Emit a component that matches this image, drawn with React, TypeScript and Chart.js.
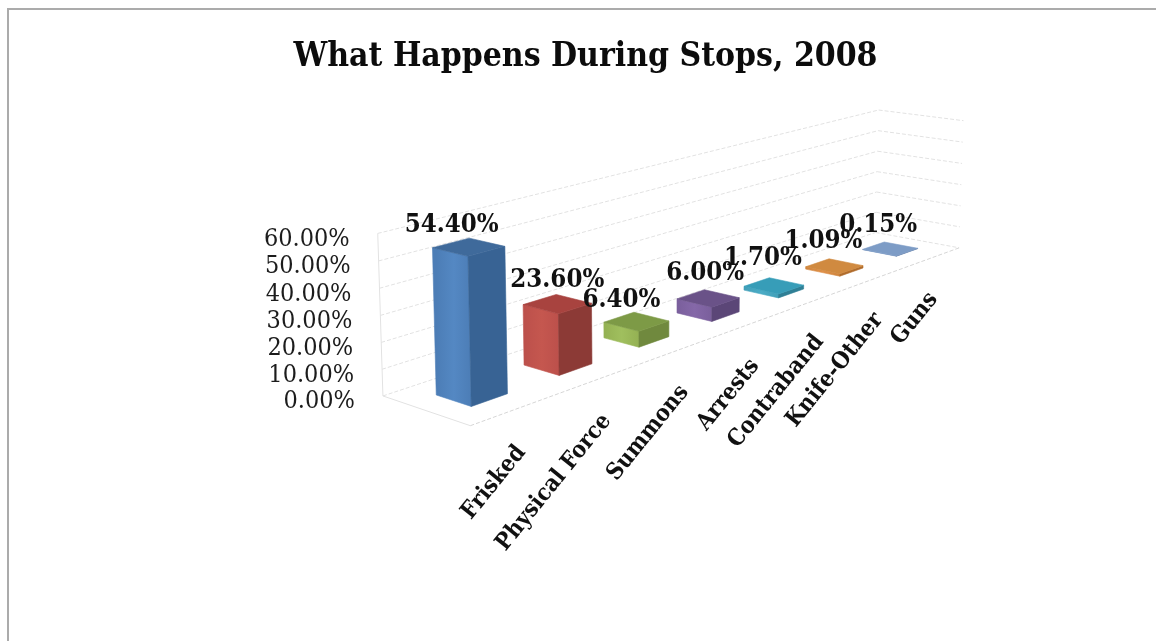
import React, { useEffect, useRef } from "react";
import { Chart, registerables } from "chart.js";

Chart.register(...registerables);

const categories = ["Frisked", "Physical Force", "Summons", "Arrests", "Contraband", "Knife-Other", "Guns"];
const stopShares = [54.4, 23.6, 6.4, 6.0, 1.7, 1.09, 0.15];
const chartTitle = "What Happens During Stops, 2008";

// face colours per bar: lit front-left face (light and dark end), right face, top face
const frontLight = ["#5488c3", "#c5574f", "#a0bf5e", "#8568a8", "#4bacc6", "#e0914a", "#84a2cb"];
const frontDark = ["#4c7db6", "#bc504b", "#94b153", "#7a5f9c", "#429fb8", "#cf843c", "#7895be"];
const rightFace = ["#386394", "#8c3a36", "#70893e", "#5b4677", "#2f7f95", "#b06c2c", "#6580a8"];
const topFace = ["#3f6a9b", "#a8433f", "#7d9a46", "#6a5288", "#379db8", "#d08a40", "#7d9cc6"];

const SERIF = "'DejaVu Serif Condensed', 'DejaVu Serif'";

// screen anchors of the 3D box: [u, v, w, x, y]; u runs along the categories, v is height, w runs back to front
const boxAnchors = [
  [0, 0, 0, 383, 397],
  [1, 0, 0, 877, 232],
  [0, 0, 1, 470, 425],
  [1, 0, 1, 958, 248],
  [0, 1, 0, 378, 233],
  [1, 1, 0, 877, 110],
  [1, 1, 1, 965, 121],
];

// offsets of the value labels from the centre of each bar's top face
const valueNudge = [
  [-17, -22], [0, -24], [-15, -21], [-3, -25], [-11, -27], [-11, -25], [-12, -23],
];

const DEPTH_FRONT = 0.7;
const DEPTH_BACK = 0.3;

type Pt = [number, number];

function solveLinear(A: number[][], b: number[]): number[] {
  const n = b.length;
  const M = A.map((r, i) => [...r, b[i]]);
  for (let c = 0; c < n; c++) {
    let p = c;
    for (let r = c + 1; r < n; r++) if (Math.abs(M[r][c]) > Math.abs(M[p][c])) p = r;
    [M[c], M[p]] = [M[p], M[c]];
    for (let r = 0; r < n; r++) {
      if (r === c) continue;
      const f = M[r][c] / M[c][c];
      for (let k = c; k <= n; k++) M[r][k] -= f * M[c][k];
    }
  }
  return M.map((r, i) => r[n] / r[i]);
}

// least-squares perspective camera through the box anchors
function fitCamera(anchors: number[][]) {
  const rows: number[][] = [];
  const rhs: number[] = [];
  for (const [u, v, w, x, y] of anchors) {
    rows.push([u, v, w, 1, 0, 0, 0, 0, -x * u, -x * v, -x * w]);
    rhs.push(x);
    rows.push([0, 0, 0, 0, u, v, w, 1, -y * u, -y * v, -y * w]);
    rhs.push(y);
  }
  const n = 11;
  const AtA = Array.from({ length: n }, () => new Array(n).fill(0));
  const Atb = new Array(n).fill(0);
  rows.forEach((r, i) => {
    for (let a = 0; a < n; a++) {
      Atb[a] += r[a] * rhs[i];
      for (let b = 0; b < n; b++) AtA[a][b] += r[a] * r[b];
    }
  });
  const h = solveLinear(AtA, Atb);
  return (u: number, v: number, w: number): Pt => {
    const d = h[8] * u + h[9] * v + h[10] * w + 1;
    return [(h[0] * u + h[1] * v + h[2] * w + h[3]) / d, (h[4] * u + h[5] * v + h[6] * w + h[7]) / d];
  };
}

const project = fitCamera(boxAnchors);

function quad(ctx: CanvasRenderingContext2D, pts: Pt[], fill: CanvasGradient | string) {
  ctx.beginPath();
  pts.forEach((p, i) => (i ? ctx.lineTo(p[0], p[1]) : ctx.moveTo(p[0], p[1])));
  ctx.closePath();
  ctx.fillStyle = fill;
  ctx.fill();
  ctx.strokeStyle = fill;
  ctx.lineWidth = 0.6;
  ctx.stroke();
}

function line(ctx: CanvasRenderingContext2D, a: Pt, b: Pt, dash: number[]) {
  ctx.setLineDash(dash);
  ctx.beginPath();
  ctx.moveTo(a[0], a[1]);
  ctx.lineTo(b[0], b[1]);
  ctx.stroke();
  ctx.setLineDash([]);
}

const box3d = {
  id: "box3d",
  beforeDatasetsDraw(chart: any) {
    const { ctx, scales, width, height } = chart;
    const yScale = scales.y;
    ctx.save();

    // page frame, open at the right and bottom
    ctx.strokeStyle = "#ababab";
    ctx.lineWidth = 2;
    ctx.beginPath();
    ctx.moveTo(8, height);
    ctx.lineTo(8, 9);
    ctx.lineTo(width, 9);
    ctx.stroke();

    // gridlines on the back and side walls
    ctx.strokeStyle = "#e2e2e2";
    ctx.lineWidth = 1;
    const heightOf = (val: number) => (yScale.bottom - yScale.getPixelForValue(val)) / (yScale.bottom - yScale.top);
    for (const t of yScale.ticks) {
      const v = heightOf(t.value);
      line(ctx, project(0, v, 0), project(1, v, 0), [4, 2]);
      line(ctx, project(1, v, 0), project(1, v, 1), [4, 2]);
    }
    line(ctx, project(0, 0, 0), project(0, 1, 0), []);
    line(ctx, project(0, 0, 0), project(0, 0, 1), []);
    ctx.strokeStyle = "#d6d6d6";
    line(ctx, project(0, 0, 1), project(1, 0, 1), [4, 2]);

    // value axis labels sit beside the left wall
    ctx.fillStyle = "#1c1c1c";
    ctx.font = `25px ${SERIF}`;
    ctx.textAlign = "right";
    ctx.textBaseline = "middle";
    for (const t of yScale.ticks) {
      const p = project(0, heightOf(t.value), 0);
      ctx.fillText(t.label, p[0] - 28, p[1] + 6);
    }

    // category labels run up towards the front floor edge
    ctx.fillStyle = "#111";
    ctx.font = `bold 23.2px ${SERIF}`;
    ctx.textAlign = "right";
    ctx.textBaseline = "middle";
    const xScale = scales.x;
    categories.forEach((name, i) => {
      const u = (xScale.getPixelForTick(i) - xScale.left) / (xScale.right - xScale.left);
      const p = project(u, 0, 1);
      ctx.save();
      ctx.translate(p[0] + 5 - 5 * u, p[1] + 40 - 2 * u);
      ctx.rotate((-51 * Math.PI) / 180);
      ctx.fillText(name, 0, 0);
      ctx.restore();
    });
    ctx.restore();
  },
  afterDatasetsDraw(chart: any) {
    const { ctx, chartArea } = chart;
    const bars = chart.getDatasetMeta(0).data;
    ctx.save();
    const toU = (x: number) => (x - chartArea.left) / (chartArea.right - chartArea.left);
    const toV = (y: number) => (chartArea.bottom - y) / (chartArea.bottom - chartArea.top);

    const tops: Pt[] = [];
    bars.forEach((bar: any, i: number) => {
      const u0 = toU(bar.x - bar.width / 2);
      const u1 = toU(bar.x + bar.width / 2);
      const v1 = toV(bar.y);
      const v0 = toV(bar.base);
      const fl0 = project(u0, v0, DEPTH_FRONT);
      const fr0 = project(u1, v0, DEPTH_FRONT);
      const bl0 = project(u0, v0, DEPTH_BACK);
      const fl1 = project(u0, v1, DEPTH_FRONT);
      const fr1 = project(u1, v1, DEPTH_FRONT);
      const bl1 = project(u0, v1, DEPTH_BACK);
      const br1 = project(u1, v1, DEPTH_BACK);

      const g = ctx.createLinearGradient(bl0[0], 0, fl0[0], 0);
      g.addColorStop(0, frontDark[i]);
      g.addColorStop(0.5, frontLight[i]);
      g.addColorStop(1, frontDark[i]);
      quad(ctx, [bl0, fl0, fl1, bl1], g);
      quad(ctx, [fl0, fr0, fr1, fl1], rightFace[i]);
      quad(ctx, [bl1, fl1, fr1, br1], topFace[i]);
      tops.push([(bl1[0] + fr1[0]) / 2, (bl1[1] + fr1[1]) / 2]);
    });

    // value labels go over every bar
    ctx.fillStyle = "#111";
    ctx.font = `bold 25.6px ${SERIF}`;
    ctx.textAlign = "center";
    ctx.textBaseline = "middle";
    tops.forEach((c, i) => {
      ctx.fillText(stopShares[i].toFixed(2) + "%", c[0] + valueNudge[i][0], c[1] + valueNudge[i][1]);
    });
    ctx.restore();
  },
};

export default function App() {
  const ref = useRef<HTMLCanvasElement | null>(null);
  useEffect(() => {
    document.body.style.margin = "0";
    document.body.style.background = "#fff";
    const chart = new Chart(ref.current as HTMLCanvasElement, {
      type: "bar",
      data: {
        labels: categories,
        datasets: [
          {
            data: stopShares,
            backgroundColor: "transparent",
            borderWidth: 0,
            categoryPercentage: 0.4,
            barPercentage: 1,
          },
        ],
      },
      options: {
        responsive: false,
        animation: false,
        layout: { padding: { left: 15 } },
        plugins: {
          legend: { display: false },
          tooltip: { enabled: false },
          title: {
            display: true,
            text: chartTitle,
            color: "#0c0c0c",
            font: { family: SERIF, size: 33.4, weight: "bold" },
            padding: { top: 37, bottom: 10 },
          },
        },
        scales: {
          x: { display: false },
          y: {
            display: false,
            min: 0,
            max: 60,
            ticks: { stepSize: 10, callback: (v: any) => Number(v).toFixed(2) + "%" },
          },
        },
      },
      plugins: [box3d as any],
    } as any);
    return () => chart.destroy();
  }, []);
  return <canvas ref={ref} width={1156} height={641} style={{ display: "block" }} />;
}
